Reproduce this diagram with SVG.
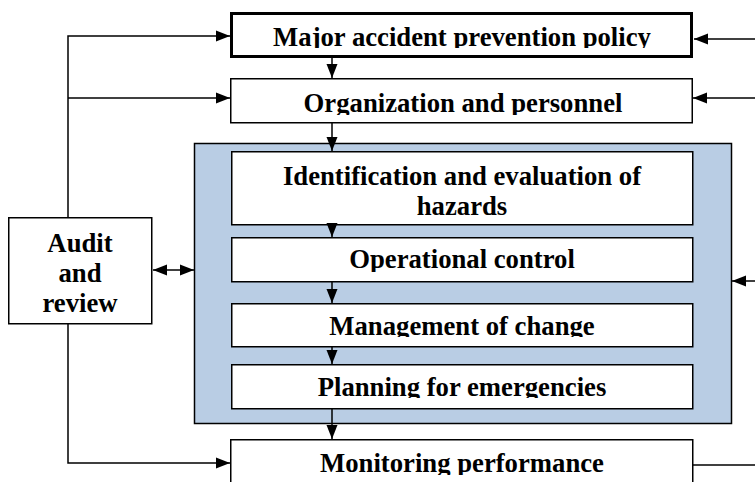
<svg xmlns="http://www.w3.org/2000/svg" width="755" height="482" viewBox="0 0 755 482">
<style>
.box{fill:#fff;stroke:#000;stroke-width:1.5}
.thick{fill:#fff;stroke:#000;stroke-width:3}
.panel{fill:#b9cde4;stroke:#000;stroke-width:1.5}
.t{font-family:"Liberation Serif","Times New Roman",serif;font-weight:bold;font-size:26.7px;fill:#000;text-anchor:middle}
.c{fill:none;stroke:#000;stroke-width:1.5}
</style>
<defs>
<marker id="ah" markerUnits="userSpaceOnUse" markerWidth="14" markerHeight="14" viewBox="0 0 14 14" refX="14" refY="7" orient="auto-start-reverse">
<path d="M0,1.5 L14,7 L0,12.5 Z" fill="#000"/>
</marker>
<clipPath id="cMaj"><rect x="230" y="12" width="463" height="36"/></clipPath>
<clipPath id="cOrg"><rect x="230" y="78" width="463" height="37"/></clipPath>
<clipPath id="cOp"><rect x="230" y="237" width="463" height="35"/></clipPath>
<clipPath id="cMgmt"><rect x="230" y="303" width="463" height="34"/></clipPath>
<clipPath id="cPlan"><rect x="230" y="364" width="463" height="34"/></clipPath>
<clipPath id="cMon"><rect x="230" y="439" width="463" height="36"/></clipPath>
</defs>

<g id="panel"><rect class="panel" x="194.5" y="143.5" width="537" height="280"/></g>

<g id="major">
<rect class="thick" x="231.5" y="13.5" width="460" height="43"/>
<text class="t" x="462" y="46" clip-path="url(#cMaj)">Major accident prevention policy</text>
</g>
<g id="org">
<rect class="box" x="230.75" y="78.75" width="461.5" height="44"/>
<text class="t" x="463" y="112" clip-path="url(#cOrg)">Organization and personnel</text>
</g>
<g id="ident">
<rect class="box" x="231.75" y="151.75" width="461" height="73"/>
<text class="t" x="462" y="185">Identification and evaluation of</text>
<text class="t" x="462" y="215">hazards</text>
</g>
<g id="op">
<rect class="box" x="231.75" y="237.75" width="461" height="44"/>
<text class="t" x="462" y="268" clip-path="url(#cOp)">Operational control</text>
</g>
<g id="mgmt">
<rect class="box" x="231.75" y="303.75" width="461" height="43"/>
<text class="t" x="462" y="335" clip-path="url(#cMgmt)">Management of change</text>
</g>
<g id="plan">
<rect class="box" x="231.75" y="364.75" width="461" height="44"/>
<text class="t" x="462" y="396" clip-path="url(#cPlan)">Planning for emergencies</text>
</g>
<g id="monitor">
<rect class="box" x="230.75" y="439.75" width="462" height="50"/>
<text class="t" x="462" y="472" clip-path="url(#cMon)">Monitoring performance</text>
</g>
<g id="audit">
<rect class="box" x="8.75" y="217.75" width="143" height="106"/>
<text class="t" x="80" y="252">Audit</text>
<text class="t" x="80" y="282">and</text>
<text class="t" x="80" y="312">review</text>
</g>

<g id="connectors">
<path class="c" d="M68,217 V36 H230" marker-end="url(#ah)"/>
<path class="c" d="M68,98 H230" marker-end="url(#ah)"/>
<path class="c" d="M68,324 V463 H230" marker-end="url(#ah)"/>
<path class="c" d="M755,39 H694" marker-end="url(#ah)"/>
<path class="c" d="M755,98 H693" marker-end="url(#ah)"/>
<path class="c" d="M755,281 H732" marker-end="url(#ah)"/>
<path class="c" d="M693,465 H755"/>
<path class="c" d="M153,270 H194" marker-start="url(#ah)" marker-end="url(#ah)"/>
<path class="c" d="M332,58 V78" marker-end="url(#ah)"/>
<path class="c" d="M332,123 V151" marker-end="url(#ah)"/>
<path class="c" d="M332,225 V237" marker-end="url(#ah)"/>
<path class="c" d="M332,282 V303" marker-end="url(#ah)"/>
<path class="c" d="M332,347 V364" marker-end="url(#ah)"/>
<path class="c" d="M332,409 V439" marker-end="url(#ah)"/>
</g>
</svg>
